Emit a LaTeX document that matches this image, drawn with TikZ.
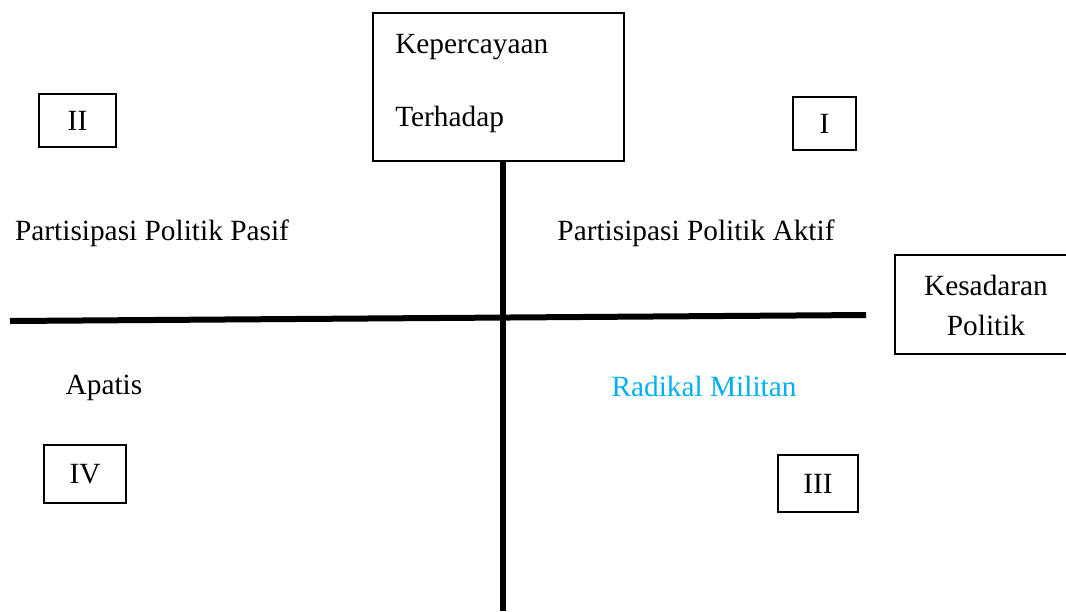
\documentclass[tikz,border=0pt]{standalone}
\usepackage{fontspec}
\setmainfont{Liberation Serif}
\definecolor{cyanblue}{HTML}{00B0F0}
\begin{document}
\begin{tikzpicture}[x=0.75pt,y=-0.75pt,
  box/.style={draw,line width=1.1pt,inner sep=0pt},
  lbl/.style={font=\fontsize{22}{30}\selectfont,inner sep=0pt},
  axis/.style={line width=4.5pt}]
\useasboundingbox (0,0) rectangle (1066,611);
% boxes
\node[box,minimum width=251*0.75pt,minimum height=148*0.75pt] (trust) at (498.5,87) {};
\node[lbl,anchor=west] (t1) at (395,47) {Kepercayaan};
\node[lbl,anchor=west] (t2) at (395,119) {Terhadap};
\node[box,lbl,minimum width=77*0.75pt,minimum height=53*0.75pt] (q2) at (77.5,120.5) {II};
\node[box,lbl,minimum width=63*0.75pt,minimum height=53*0.75pt] (q1) at (824.5,123.5) {I};
\node[box,lbl,minimum width=82*0.75pt,minimum height=58*0.75pt] (q4) at (85,474) {IV};
\node[box,lbl,minimum width=80*0.75pt,minimum height=57*0.75pt] (q3) at (818,483.5) {III};
\node[box,minimum width=180*0.75pt,minimum height=99*0.75pt] (aware) at (985,304.5) {};
\node[lbl,align=center] (awaretext) at (986,305) {Kesadaran\\Politik};
% labels
\node[lbl] (pasif) at (152,233) {Partisipasi Politik Pasif};
\node[lbl] (aktif) at (696,233) {Partisipasi Politik Aktif};
\node[lbl] (apatis) at (104,388) {Apatis};
\node[lbl,text=cyanblue] (radikal) at (704,386) {Radikal Militan};
% axes
\coordinate (hl) at (10,321);
\coordinate (hr) at (866,315);
\coordinate (vb) at (503,611);
\draw[axis] (hl) -- (hr);
\draw[axis] (trust.south -| vb) -- (vb);
\end{tikzpicture}
\end{document}
